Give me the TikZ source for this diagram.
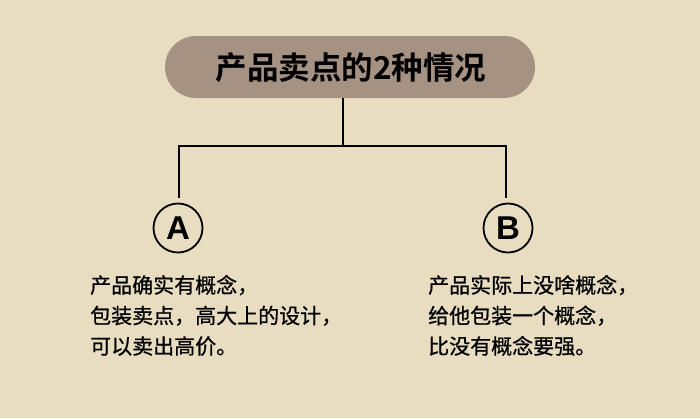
\documentclass[tikz,border=0pt]{standalone}
\usepackage{fontspec}
\setmainfont{Noto Sans CJK SC}
\newfontfamily\cjkbold{Noto Sans CJK SC Bold}
\newfontfamily\cjk[FakeBold=0.8]{Noto Sans CJK SC}
\newfontfamily\latinsans{Liberation Sans}
\definecolor{bg}{HTML}{E8DDC0}
\definecolor{pill}{HTML}{A69282}
\tikzset{
  link/.style={draw=black, line width=2pt},
  letter/.style={circle, draw=black, line width=1.8pt, minimum size=49pt, inner sep=0pt, font=\latinsans\bfseries\fontsize{33}{33}\selectfont},
  body/.style={anchor=base west, align=left, inner sep=0pt, font=\cjk\fontsize{21}{30.5}\selectfont},
}
\begin{document}
\begin{tikzpicture}[x=1pt,y=-1pt]
\useasboundingbox[fill=bg] (0,0) rectangle (700,418);
\node[fill=pill, rounded corners=31pt, minimum width=370pt, minimum height=62pt, inner sep=0pt] (title) at (350,67) {};
\node[anchor=base, inner sep=0pt, font=\cjkbold\fontsize{31.5}{31.5}\selectfont] (ttext) at (351,79) {产品卖点的2种情况};
\node[letter] (A) at (178,228) {A};
\node[letter] (B) at (508,228) {B};
\coordinate (t) at (343,98);
\coordinate (j) at (343,145.5);
\coordinate (a1) at (179,198);
\coordinate (b1) at (506,198);
\draw[link] (t) -- (j);
\draw[link] (a1) -- (a1 |- j) -- (b1 |- j) -- (b1);
\node[body] (ta) at (90,354) {产品确实有概念，\\包装卖点，高大上的设计，\\可以卖出高价。};
\node[body] (tb) at (428,354) {产品实际上没啥概念，\\给他包装一个概念，\\比没有概念要强。};
\end{tikzpicture}
\end{document}
